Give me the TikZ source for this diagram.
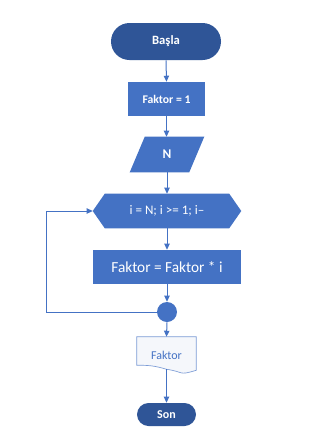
\documentclass[tikz,border=0pt]{standalone}
\usepackage{fontspec}
\setmainfont{Carlito}
\usetikzlibrary{shapes.misc,arrows.meta}
\definecolor{darkb}{HTML}{2F5597}
\definecolor{midb}{HTML}{4472C4}
\definecolor{docfill}{HTML}{F5F7FB}
\tikzset{
  flow/.style={draw=midb, line width=0.75pt, -{Triangle[length=4.5pt,width=4pt]}},
  loopline/.style={draw=midb, line width=0.75pt},
  term/.style={rounded rectangle, fill=darkb, text=white, inner sep=0pt},
  procbox/.style={rectangle, fill=midb, text=white, inner sep=0pt},
  ghost/.style={rectangle, inner sep=0pt, text=white},
  junction/.style={circle, fill=midb, inner sep=0pt, minimum size=15pt},
}
\begin{document}
\begin{tikzpicture}[x=0.75pt,y=-0.75pt]
\fill[white] (0,0) rectangle (313,440);
\useasboundingbox (0,0) rectangle (313,440);

% Start
\node[term, minimum width=82.5pt, minimum height=27.75pt, font=\bfseries\fontsize{9.5}{11}\selectfont] (start) at (166,41.5) {Başla};
% Faktor = 1
\node[procbox, minimum width=57.75pt, minimum height=25.5pt, font=\bfseries\fontsize{8.8}{10}\selectfont] (init) at (166.5,99) {Faktor = 1};
% N input (parallelogram)
\node[ghost, minimum width=55.5pt, minimum height=26.25pt] (inp) at (167,154.5) {};
\fill[midb] (inp.south west) -- ([xshift=11.25pt]inp.north west) -- (inp.north east) -- ([xshift=-11.25pt]inp.south east) -- cycle;
\node[ghost, font=\bfseries\fontsize{10}{12}\selectfont] at (inp.center) {N};
% Loop hexagon
\node[ghost, minimum width=111pt, minimum height=25.5pt] (loop) at (167,211) {};
\fill[midb] (loop.west) -- ([xshift=9pt]loop.north west) -- ([xshift=-9pt]loop.north east) -- (loop.east) -- ([xshift=-9pt]loop.south east) -- ([xshift=9pt]loop.south west) -- cycle;
\node[ghost, font=\fontsize{9.8}{11}\selectfont] at (loop.center) {i = N; i >= 1; i–};
% Body
\node[procbox, minimum width=111pt, minimum height=25.5pt, font=\fontsize{11.5}{13}\selectfont] (body) at (167,267) {Faktor = Faktor * i};
% Junction
\node[junction] (join) at (167,312) {};
% Document output
\node[rectangle, inner sep=0pt, minimum width=44.25pt, minimum height=24pt] (out) at (166.5,353) {};
\filldraw[fill=docfill, draw=midb!70, line width=0.5pt]
  ([yshift=3pt]out.south west) -- (out.north west) -- (out.north east) -- ([yshift=-0.75pt]out.south east)
  .. controls ([xshift=-14pt,yshift=-5pt]out.south east) and ([xshift=14pt,yshift=-2pt]out.south) .. (out.south)
  .. controls ([xshift=-10pt,yshift=3pt]out.south) and ([xshift=8pt,yshift=3pt]out.south west) .. ([yshift=3pt]out.south west) -- cycle;
\node[text=midb, font=\fontsize{9}{10}\selectfont] at ([yshift=-1.5pt]out.center) {Faktor};
% End
\node[term, minimum width=44.25pt, minimum height=17.25pt, font=\bfseries\fontsize{9}{10}\selectfont] (stop) at (166.5,414.5) {Son};

% Connectors
\draw[flow] (start.south) -- (init.north);
\draw[flow] (init.south) -- (inp.north -| init.south);
\draw[flow] (inp.south) -- (loop.north);
\draw[flow] (loop.south) -- (body.north);
\draw[flow] (body.south) -- (join.north);
\draw[flow] (join.south) -- (out.north);
\draw[flow] (out.south) -- (stop.north);
\coordinate (lb) at (46,312);
\coordinate (lt) at (46,211);
\draw[loopline] (join.west) -- (lb) -- (lt);
\draw[flow] (lt) -- (loop.west);
\end{tikzpicture}
\end{document}
